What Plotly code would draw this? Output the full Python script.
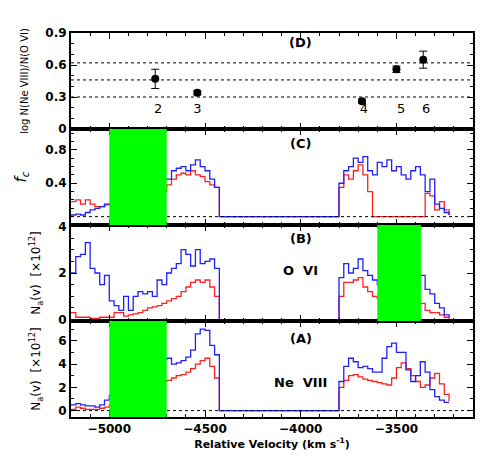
import numpy as np
import plotly.graph_objects as go
from plotly.subplots import make_subplots

# velocity grid (km/s), 25 km/s bins
velocity = np.arange(-5200, -3200, 25)
zeros25 = [0.0] * 25

neviii_blue = ([0.5, 0.6, 0.5, 0.4, 0.4, 0.3, 0.5, 0.9,
                1.3, 1.5, 1.8, 2.0, 2.3, 2.6, 3.0, 3.3, 3.6, 3.9, 4.2, 4.4,
                4.5, 4.0, 4.1, 4.3, 4.6, 5.2, 6.6, 7.0, 6.9, 5.6, 4.8]
               + zeros25 +
               [2.5, 3.8, 4.5, 4.2, 3.7, 3.8, 3.6, 3.3, 3.3, 4.5, 5.5, 5.8,
                5.0, 5.0, 3.5, 2.5, 3.0, 4.2, 3.3, 1.8, 1.2, 0.9, 0.7, 0.7])
neviii_red = ([0.1, 0.3, 0.2, 0.1, 0.1, 0.1, 0.2, 0.3,
               0.5, 0.7, 1.0, 1.3, 1.5, 1.7, 1.9, 2.1, 2.2, 2.3, 2.4, 2.5,
               2.6, 2.8, 3.0, 3.1, 3.3, 3.6, 4.0, 4.3, 4.5, 3.8, 2.8]
              + zeros25 +
              [2.0, 2.6, 3.0, 3.1, 2.9, 2.7, 2.6, 2.5, 2.4, 2.3, 2.2, 2.8,
               3.7, 4.1, 3.6, 3.0, 2.5, 2.0, 2.2, 2.8, 3.2, 2.3, 1.4, 0.8])

ovi_blue = ([2.0, 2.7, 2.8, 3.3, 2.2, 2.0, 1.5, 1.9,
             0.8, 0.6, 0.4, 1.0, 0.4, 1.0, 1.2, 1.1, 1.2, 1.0, 1.7, 1.5,
             2.0, 2.2, 2.4, 3.0, 2.8, 2.3, 3.0, 2.4, 2.5, 2.6, 2.2]
            + zeros25 +
            [1.8, 2.4, 2.0, 2.2, 2.6, 2.1, 1.9, 1.7, 1.5, 1.4, 1.3, 1.3,
             1.2, 1.2, 1.3, 1.4, 1.6, 1.9, 1.3, 1.1, 0.7, 0.5, 0.2, 0.1])
ovi_red = ([0.3, 0.1, 0.1, 0.1, 0.05, 0.05, 0.1, 0.1,
            0.1, 0.3, 0.3, 0.15, 0.2, 0.25, 0.3, 0.4, 0.5, 0.55, 0.6, 0.7,
            0.8, 0.9, 1.0, 1.2, 1.4, 1.6, 1.7, 1.6, 1.7, 1.4, 1.0]
           + zeros25 +
           [1.0, 1.6, 1.6, 1.7, 1.8, 1.4, 1.2, 1.0, 0.9, 0.9, 0.9, 0.9,
            0.9, 0.9, 0.9, 0.9, 0.9, 0.7, 0.4, 0.3, 0.3, 0.2, 0.1, 0.0])

fc_blue = ([0.02, 0.03, 0.02, 0.05, 0.08, 0.1, 0.12, 0.15,
            0.15, 0.12, 0.15, 0.2, 0.2, 0.25, 0.3, 0.3, 0.35, 0.4, 0.4, 0.45,
            0.45, 0.55, 0.58, 0.6, 0.55, 0.62, 0.68, 0.6, 0.55, 0.45, 0.35]
           + zeros25 +
           [0.4, 0.55, 0.6, 0.7, 0.65, 0.72, 0.55, 0.5, 0.65, 0.6, 0.68, 0.55,
            0.6, 0.5, 0.45, 0.55, 0.6, 0.5, 0.3, 0.45, 0.15, 0.1, 0.05, 0.02])
fc_red = ([0.18, 0.2, 0.15, 0.2, 0.15, 0.12, 0.12, 0.14,
           0.15, 0.12, 0.06, 0.1, 0.05, 0.08, 0.12, 0.15, 0.42, 0.25, 0.5, 0.3,
           0.38, 0.45, 0.5, 0.52, 0.5, 0.55, 0.5, 0.48, 0.42, 0.38, 0.35]
          + zeros25 +
          [0.35, 0.5, 0.45, 0.55, 0.62, 0.5, 0.3, 0, 0, 0, 0, 0,
           0, 0, 0, 0, 0, 0, 0.28, 0.25, 0.08, 0.18, 0.08, 0.02])

# panel D: log N(Ne VIII)/N(O VI) per component
comp_v = [-4760, -4540, -3680, -3500, -3360]
comp_ratio = [0.47, 0.34, 0.26, 0.56, 0.65]
comp_err = [0.09, 0.02, 0.02, 0.03, 0.08]
comp_labels = ["2", "3", "4", "5", "6"]
comp_label_v = [-4745, -4540, -3670, -3475, -3345]
ratio_refs = [0.3, 0.46, 0.62]

masks = {2: (-5000, -4700), 3: (-3600, -3372), 4: (-5000, -4700)}

fig = make_subplots(rows=4, cols=1, shared_xaxes=True, vertical_spacing=0)

fig.add_trace(go.Scatter(x=comp_v, y=comp_ratio, mode="markers",
                         marker=dict(color="black", size=8),
                         error_y=dict(array=comp_err, color="black", thickness=1, width=4)),
              row=1, col=1)
fig.add_trace(go.Scatter(x=comp_label_v, y=[0.18] * 5, mode="text", text=comp_labels,
                         textfont=dict(size=13, color="black")), row=1, col=1)

panels = [(2, fc_blue, fc_red), (3, ovi_blue, ovi_red), (4, neviii_blue, neviii_red)]
for row, blue, red in panels:
    for ys, c in ((red, "#ff2020"), (blue, "#2020ff")):
        fig.add_trace(go.Scatter(x=velocity, y=ys, mode="lines", line_shape="hv",
                                 line=dict(color=c, width=1.3)), row=row, col=1)

dot = dict(color="black", width=1, dash="dot")
for y in ratio_refs:
    fig.add_hline(y=y, line=dot, row=1, col=1)
for row in (2, 3, 4):
    fig.add_hline(y=0, line=dot, row=row, col=1)
for row, (x0, x1) in masks.items():
    yref = "y%d domain" % row
    fig.add_shape(type="rect", xref="x%d" % row, yref=yref, x0=x0, x1=x1, y0=0, y1=1,
                  fillcolor="#00ff00", line_width=0, layer="above")

ann = dict(showarrow=False, font=dict(size=13, color="black"))
fig.add_annotation(x=-4000, y=0.81, text="<b>(D)</b>", xref="x", yref="y", **ann)
fig.add_annotation(x=-4000, y=0.88, text="<b>(C)</b>", xref="x2", yref="y2", **ann)
fig.add_annotation(x=-4000, y=3.5, text="<b>(B)</b>", xref="x3", yref="y3", **ann)
fig.add_annotation(x=-4000, y=2.1, text="<b>O  VI</b>", xref="x3", yref="y3", **ann)
fig.add_annotation(x=-4000, y=6.2, text="<b>(A)</b>", xref="x4", yref="y4", **ann)
fig.add_annotation(x=-4000, y=2.4, text="<b>Ne  VIII</b>", xref="x4", yref="y4", **ann)

axis_common = dict(showgrid=False, zeroline=False, showline=True, linecolor="black",
                   linewidth=2, mirror="ticks", ticks="inside", ticklen=6,
                   tickcolor="black", tickfont=dict(size=12, color="black", weight="bold"),
                   minor=dict(ticks="inside", ticklen=3, tickcolor="black"))
fig.update_xaxes(range=[-5200, -3100], dtick=500, minor_dtick=100, **axis_common)
fig.update_xaxes(title=dict(text="<b>Relative Velocity (km s<sup>-1</sup>)</b>",
                            font=dict(size=11), standoff=4), row=4, col=1)

fig.update_yaxes(range=[0, 0.9], tickvals=[0, 0.3, 0.6, 0.9], ticktext=["0", "0.3", "0.6", "0.9"],
                 minor_dtick=0.1, title=dict(text="log N(Ne VIII)/N(O VI)", font=dict(size=10)),
                 row=1, col=1, **axis_common)
fig.update_yaxes(range=[-0.1, 1.05], tickvals=[0.4, 0.8], minor_dtick=0.1,
                 title=dict(text="<i>f<sub>c</sub></i>", font=dict(size=15)),
                 row=2, col=1, **axis_common)
fig.update_yaxes(range=[-0.06, 4.06], tickvals=[0, 2, 4], minor_dtick=0.5,
                 title=dict(text="N<sub>a</sub>(v)  [×10<sup>12</sup>]", font=dict(size=12)),
                 row=3, col=1, **axis_common)
fig.update_yaxes(range=[-0.55, 7.7], tickvals=[0, 2, 4, 6], minor_dtick=1,
                 title=dict(text="N<sub>a</sub>(v)  [×10<sup>12</sup>]", font=dict(size=12)),
                 row=4, col=1, **axis_common)

fig.update_layout(width=491, height=458, showlegend=False, plot_bgcolor="white",
                  paper_bgcolor="white", font=dict(family="DejaVu Sans", color="black"),
                  margin=dict(l=53, r=26, t=25, b=49))
fig.write_html("out.html")
